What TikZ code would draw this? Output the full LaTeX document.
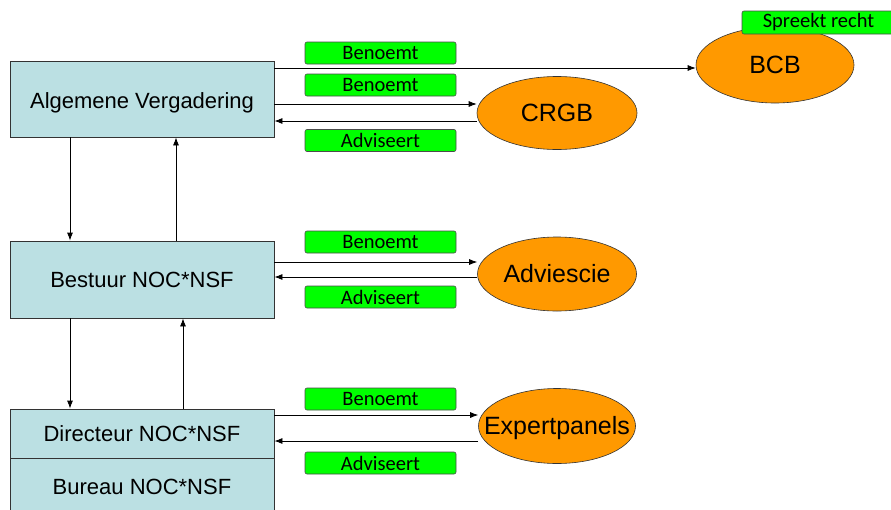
\documentclass[tikz,border=0pt]{standalone}
\usepackage{fontspec}
\setmainfont{Liberation Sans}
\newfontfamily\calib{Carlito}
\usetikzlibrary{arrows.meta,shapes.geometric}
\definecolor{boxblue}{HTML}{BBE0E3}
\definecolor{orangeA}{HTML}{FF9900}
\definecolor{greenA}{HTML}{00FF00}
\newcommand{\zw}[1]{\makebox[0pt]{#1}}
\begin{document}
\begin{tikzpicture}[x=1pt,y=-1pt,
 box/.style={draw=black!80, fill=boxblue, minimum width=264pt, inner sep=0pt, line width=0.8pt, text height=15.8pt, text depth=0pt, font=\fontsize{22}{26}\selectfont},
 ell/.style={ellipse, draw=black!80, fill=orangeA, inner sep=0pt, line width=0.6pt, text height=17.9pt, text depth=0pt, font=\fontsize{25}{30}\selectfont},
 lab/.style={draw=black!70, fill=greenA, rounded corners=2pt, minimum width=151pt, minimum height=22pt, inner sep=0pt, line width=0.6pt, font=\calib\fontsize{20.5}{24}\selectfont},
 arr/.style={-{Latex[length=8pt,width=6pt]}, line width=0.8pt}]
\useasboundingbox (0,0) rectangle (891,509);
\fill[white] (0,0) rectangle (891,509);
\clip (0,0) rectangle (891,509);
% boxes
\node[box, minimum height=76pt] (AV) at (142,99) {\raisebox{-1.5pt}{Algemene Vergadering}};
\node[box, minimum height=77pt] (BE) at (142,279.5) {Bestuur NOC*NSF};
\node[box, minimum height=49pt] (DI) at (142,433.5) {Directeur NOC*NSF};
\node[box, minimum height=56pt, anchor=north] (BU) at (142,458) {Bureau NOC*NSF};
% ellipses
\node[ell, minimum width=158pt, minimum height=76pt] (BCB) at (775,65) {\zw{BCB}};
\node[ell, minimum width=160pt, minimum height=73pt] (CRGB) at (557,113) {\zw{CRGB}};
\node[ell, minimum width=159pt, minimum height=74pt] (ADV) at (557,274) {\zw{Adviescie}};
\node[ell, minimum width=157pt, minimum height=75pt] (EXP) at (557,426) {\zw{Expertpanels}};
% labels
\node[lab, minimum width=153pt, minimum height=23pt] (LSR) at (818.5,22.5) {Spreekt recht};
\node[lab] (L1) at (380.5,53) {Benoemt};
\node[lab] (L2) at (380.5,85) {Benoemt};
\node[lab] (L3) at (380.5,140.5) {Adviseert};
\node[lab] (L4) at (380.5,242) {Benoemt};
\node[lab] (L5) at (380.5,297) {Adviseert};
\node[lab] (L6) at (380.5,399) {Benoemt};
\node[lab] (L7) at (380.5,463) {Adviseert};
% horizontal connectors
\draw[arr] (AV.east |- 0,68) -- (BCB.west |- 0,68);
\draw[arr] (AV.east |- 0,104) -- (CRGB.west |- 0,104);
\draw[arr] (CRGB.west |- 0,121) -- (AV.east |- 0,121);
\draw[arr] (BE.east |- 0,262) -- (ADV.west |- 0,262);
\draw[arr] (ADV.west |- 0,277) -- (BE.east |- 0,277);
\draw[arr] (DI.east |- 0,415) -- (EXP.west |- 0,415);
\draw[arr] (EXP.west |- 0,441) -- (DI.east |- 0,441);
% vertical connectors
\draw[arr] (AV.south -| 70,0) -- (BE.north -| 70,0);
\draw[arr] (BE.north -| 176,0) -- (AV.south -| 176,0);
\draw[arr] (BE.south -| 70,0) -- (DI.north -| 70,0);
\draw[arr] (DI.north -| 183,0) -- (BE.south -| 183,0);
\end{tikzpicture}
\end{document}
